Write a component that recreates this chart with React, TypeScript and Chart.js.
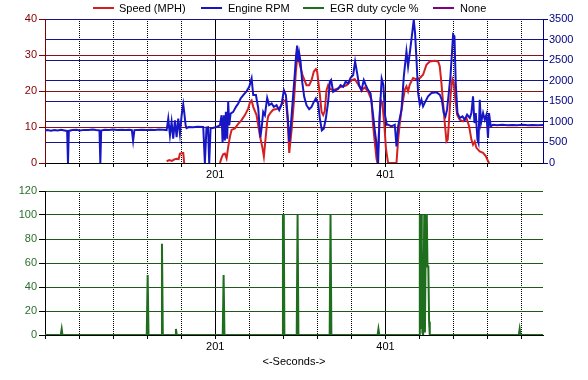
import React, { useEffect, useRef } from "react";
import { Chart, registerables } from "chart.js";

Chart.register(...registerables);

const FONT = '"Liberation Sans", Arial, sans-serif';

// ---------- axis data ----------
const xMin = 1;
const xMax = 586;
const xTickValues = [1, 41, 81, 121, 161, 201, 241, 281, 321, 361, 401, 441, 481, 521, 561];
const xLabelValues = [201, 401];
const axisTitle = "<-Seconds->";

// ---------- series ----------
const rpmSeconds = [
  1, 4, 8, 12, 16, 20, 24, 27, 28, 29, 33, 38, 42, 47, 52, 57, 61, 65, 66, 67,
  71, 76, 81, 86, 91, 96, 100, 103, 104.5, 106, 110, 115, 120, 125, 130, 135, 140,
  143.9, 145.8, 147.8, 149.7, 151.6, 153.6, 155.6, 157.5, 159.5, 161.5, 163.4, 164.5,
  166.2, 167.3, 170, 175, 180, 186.9, 188.8, 190.7, 192.5, 193.9, 195.5, 202.6,
  206.5, 208.4, 209.6, 211.1, 212.3, 213.5, 215.0, 216.2, 217.4, 219.0, 222.1, 225.3,
  228.0, 230.8, 233.9, 237.9, 240.9, 243.7, 245.6, 248.8, 251.5, 254.0, 255.8, 257.3,
  259.3, 262.0, 264.3, 267.2, 269.8, 273.0, 276.1, 278.9, 281.6, 284.0, 286.0, 288.0,
  289.8, 292.5, 294.5, 296.0, 297.2, 298.4, 299.6, 301.2, 303.1, 305.5, 308.2, 311.3,
  314.1, 316.8, 319.2, 321.9, 323.9, 326.2, 328.5, 330.9, 333.6, 335.6, 337.1, 339.5,
  342.6, 345.3, 348.2, 351.3, 354.1, 357.1, 360.0, 363.0, 365.3, 367.7, 370.0, 372.8,
  375.5, 377.8, 380.6, 383.4, 386.4, 388.4, 390.4, 392.3, 394.0, 396.5, 398.5, 400.5,
  402.6, 404.1, 408.0, 411.9, 413.9, 415.8, 419.8, 422.5, 425.6, 427.5, 429.5, 431.9,
  434.2, 435.7, 437.4, 439.3, 441.3, 443.2, 445.1, 447.9, 451.0, 455.0, 460.9, 464.7,
  467.1, 469.4, 471.4, 473.3, 475.3, 477.3, 478.8, 480.4, 482.0, 483.5, 485.5, 488.2,
  491.4, 494.1, 496.8, 500.0, 501.9, 503.8, 505.5, 507.0, 509.0, 510.2, 511.7, 513.2,
  515.6, 517.6, 519.6, 521.4, 522.6, 524.6, 527.3, 532, 538, 544, 550, 556, 562, 568,
  574, 580, 586,
];
const rpmValues = [
  790, 800, 785, 800, 790, 805, 790, 780, 0, 780, 800, 810, 790, 805, 800, 815, 800, 790, 0, 790,
  810, 800, 815, 800, 810, 805, 810, 800, 540, 800, 805, 810, 800, 810, 805, 815, 810,
  800, 1080, 672, 997, 591, 1039, 631, 1080, 713, 1161, 1422, 1242,
  917, 850, 875, 870, 880, 875, 0, 860, 870, 0, 840, 875,
  917, 1161, 508, 1161, 550, 1242, 591, 1503, 917, 1202, 1242, 1364,
  1447, 1569, 1650, 1747, 1853, 2058, 1650, 1650, 1325, 620, 917, 1242,
  1161, 1585, 1405, 1447, 1364, 1405, 1283, 1422, 1772, 1650, 1161, 520,
  917, 1650, 2180, 2627, 2855, 2464, 2668, 2464, 1975, 1608, 1405, 1307,
  1364, 1486, 1569, 1447, 1080, 794, 836, 1080, 1486, 1975, 2016, 1731,
  1772, 1800, 1894, 1853, 1975, 1934, 2073, 2139, 2464, 2180, 1894, 1772,
  2016, 1894, 1772, 1691, 1161, 794, 469, 0, 1100, 2050, 1900, 1150,
  931, 931, 891, 931, 405, 891, 1296, 2106, 2714, 2349, 2673, 3078,
  3483, 3159, 2511, 1701, 1418, 1539, 1377, 1499, 1620, 1701, 1717, 1661,
  1539, 1215, 1134, 1296, 1701, 2106, 2592, 3119, 3078, 1944, 1215, 1094,
  1134, 1053, 1175, 1094, 1215, 1620, 972, 1215, 567, 486, 1539, 972,
  1215, 1053, 1175, 608, 1215, 891, 931, 920, 930, 915, 925, 920, 930, 915,
  925, 920, 925,
];

const speedSeconds = [
  143.9, 147, 150, 153, 155.6, 158, 159.5, 161.5, 163.4, 164.5, 185,
  206.5, 208.5, 210.3, 212.3, 214.3, 216.2, 218.2, 220.2, 224.1, 228.0, 231.9, 235.8,
  239.7, 241.7, 243.7, 245.6, 249.5, 253.4, 256.6, 258.1, 259.7, 262.0, 263.2, 266.0,
  269.0, 273.0, 276.9, 280.8, 284.0, 286.0, 287.9, 290.6, 293.3, 295.7, 297.2, 298.4,
  300.4, 303.5, 308.2, 311.3, 314.1, 316.8, 319.2, 320.7, 323.9, 325.9, 327.8, 329.7,
  331.7, 333.6, 335.6, 339.5, 343.5, 349.4, 355.2, 361.1, 364.9, 368.8, 372.8, 376.7,
  380.6, 384.5, 386.4, 388.4, 390.4, 391.5, 393.5, 395.2, 397.2, 399.5, 401.5, 404.0,
  408.0, 413.9, 415.8, 417.8, 419.8, 421.7, 423.7, 425.6, 427.5, 429.5, 433.4, 437.4,
  441.3, 445.1, 449.1, 453.0, 458.9, 462.8, 464.7, 466.7, 468.6, 470.6, 472.6, 474.1,
  475.7, 477.6, 479.6, 481.2, 483.1, 485.1, 488.2, 492.2, 496.1, 499.2, 501.9, 503.8,
  505.8, 507.8, 511.7, 515.6, 518.8, 521.5, 522.7,
];
const speedValues = [
  0.5, 0.8, 0.6, 1.0, 1.2, 1.1, 2.6, 2.7, 2.8, 0, null,
  0, 1.5, 2.4, 2.6, 1.3, 4.5, 7.3, 9.2, 9.6, 10.9, 11.9, 13.3,
  15.1, 16.8, 17.4, 15.6, 13.3, 7.7, 4.0, 1.8, 5.8, 11.4, 13.0, 14.0,
  14.8, 15.0, 15.4, 17.0, 17.5, 12.0, 2.8, 9.0, 16.8, 25.4, 29.1, 29.5,
  27.2, 24.4, 21.6, 21.6, 23.0, 25.4, 26.1, 25.4, 18.9, 14.2, 13.3, 14.5,
  20.2, 21.6, 20.6, 20.2, 20.6, 21.2, 21.6, 23.0, 23.3, 21.9, 20.2, 21.0,
  19.8, 17.5, 10.5, 5.8, 1.2, 0, 10, 17.5, 16.8, 11, 4, 0,
  0, 0, 6.5, 11.1, 14.8, 17.6, 20.4, 21.3, 19.9, 21.8, 23.6, 23.2,
  23.6, 24.5, 27.3, 28.2, 28.4, 28.2, 26.9, 22.2, 16.7, 11.1, 6.0, 6.5,
  12.0, 19.4, 23.2, 22.2, 17.6, 13.4, 12.0, 11.6, 12.5, 10.2, 6.5, 5.1,
  6.0, 4.2, 3.2, 2.8, 1.9, 0.5, 0,
];

const egrSeconds = [
  1, 19.5, 20.6, 21.5, 120.5, 121.6, 122.6, 137.4, 138.4, 139.4, 153.8, 154.8, 155.8,
  209.8, 210.8, 211.8, 279.8, 280.5, 281.5, 282.2, 296.7, 297.7, 298.7, 335.4, 336.4,
  337.4, 391.7, 392.7, 393.7, 440.5, 441.3, 442.1, 442.9, 443.6, 444.3, 445.2, 446.5,
  447.3, 448.5, 449.5, 450.3, 451.3, 452.2, 453.0, 557.6, 558.6, 559.6, 586,
];
const egrValues = [
  0, 0, 5, 0, 0, 50, 0, 0, 76, 0, 0, 5, 0,
  0, 50, 0, 0, 100, 100, 0, 0, 100, 0, 0, 100,
  0, 0, 5, 0, 0, 100, 5, 100, 78, 2, 0, 100,
  2, 100, 100, 57, 57, 11, 0, 0, 5, 0, 0,
];

const legendLabels = ["Speed (MPH)", "Engine RPM", "EGR duty cycle %", "None"];
const legendColors = ["#d42020", "#1616c4", "#1e6e1e", "#800080"];
const legendLineX = [93, 201, 303, 433];
const legendTextX = [119, 228, 330, 460];

const pairs = (xs: number[], ys: (number | null)[]) => xs.map((x, i) => ({ x, y: ys[i] }));

function makeX(withTitle: boolean, height: number) {
  return {
    type: "linear" as const,
    position: "bottom" as const,
    min: xMin,
    max: xMax,
    afterBuildTicks: (s: any) => {
      s.ticks = xTickValues.map((v) => ({ value: v }));
    },
    afterFit: (s: any) => {
      s.height = height;
    },
    ticks: {
      autoSkip: false,
      maxRotation: 0,
      padding: 1,
      color: "#000",
      font: { family: FONT, size: 11 },
      callback: (v: any) => (xLabelValues.includes(Number(v)) ? String(v) : ""),
    },
    grid: {
      color: "#000",
      lineWidth: 1,
      tickLength: 4,
      tickColor: "#000",
    },
    border: {
      color: "#000",
      width: 1,
      dash: (ctx: any) =>
        ctx.tick && !xLabelValues.includes(ctx.tick.value) ? [1, 1] : [],
    },
    title: {
      display: withTitle,
      text: axisTitle,
      color: "#000",
      font: { family: FONT, size: 11 },
      padding: { top: 0, bottom: 11 },
    },
  };
}

function TopChart() {
  const ref = useRef<HTMLCanvasElement>(null);
  useEffect(() => {
    if (!ref.current) return;
    const chart = new Chart(ref.current, {
      type: "line",
      data: {
        datasets: [
          {
            label: legendLabels[0],
            data: pairs(speedSeconds, speedValues),
            borderColor: legendColors[0],
            borderWidth: 2,
            pointRadius: 0,
            spanGaps: false,
            yAxisID: "ySpeed",
            order: 2,
          },
          {
            label: legendLabels[1],
            data: pairs(rpmSeconds, rpmValues),
            borderColor: legendColors[1],
            borderWidth: 2,
            pointRadius: 0,
            yAxisID: "yRpm",
            order: 1,
          },
        ],
      },
      options: {
        animation: false,
        responsive: false,
        maintainAspectRatio: false,
        events: [],
        layout: { padding: { top: 19, left: 0, right: 0, bottom: 0 } },
        plugins: { legend: { display: false }, tooltip: { enabled: false } },
        scales: {
          x: makeX(false, 19),
          ySpeed: {
            type: "linear",
            position: "left",
            min: 0,
            max: 40,
            afterFit: (s: any) => {
              s.width = 45;
            },
            ticks: {
              stepSize: 10,
              color: "#800000",
              padding: 2,
              font: { family: FONT, size: 11 },
              callback: (v: any) => String(v),
            },
            grid: {
              color: (ctx: any) =>
                ctx.tick && (ctx.tick.value === 0 || ctx.tick.value === 40)
                  ? "rgba(0,0,0,0)"
                  : "#861414",
              tickColor: "#800000",
              tickLength: 6,
            },
            border: { color: "#800000", width: 1 },
          },
          yRpm: {
            type: "linear",
            position: "right",
            min: 0,
            max: 3500,
            afterFit: (s: any) => {
              s.width = 45;
            },
            ticks: {
              stepSize: 500,
              color: "#000080",
              padding: 1,
              font: { family: FONT, size: 11 },
              callback: (v: any) => String(v),
            },
            grid: {
              color: (ctx: any) =>
                ctx.tick && ctx.tick.value === 0 ? "rgba(0,0,0,0)" : "#14148c",
              tickColor: "#000080",
              tickLength: 5,
            },
            border: { color: "#000080", width: 1 },
          },
        },
      } as any,
    });
    return () => chart.destroy();
  }, []);
  return (
    <canvas
      ref={ref}
      width={588}
      height={182}
      style={{ position: "absolute", left: 0, top: 0, width: 588, height: 182 }}
    />
  );
}

function BottomChart() {
  const ref = useRef<HTMLCanvasElement>(null);
  useEffect(() => {
    if (!ref.current) return;
    const chart = new Chart(ref.current, {
      type: "line",
      data: {
        datasets: [
          {
            label: legendLabels[2],
            data: pairs(egrSeconds, egrValues),
            borderColor: legendColors[2],
            borderWidth: 2,
            pointRadius: 0,
            yAxisID: "y",
          },
        ],
      },
      options: {
        animation: false,
        responsive: false,
        maintainAspectRatio: false,
        events: [],
        layout: { padding: { top: 9, left: 0, right: 45, bottom: 0 } },
        plugins: { legend: { display: false }, tooltip: { enabled: false } },
        scales: {
          x: makeX(true, 45),
          y: {
            type: "linear",
            position: "left",
            min: 0,
            max: 120,
            afterFit: (s: any) => {
              s.width = 45;
            },
            ticks: {
              stepSize: 20,
              color: "#2a6e2a",
              padding: 2,
              font: { family: FONT, size: 11 },
              callback: (v: any) => String(v),
            },
            grid: {
              color: (ctx: any) =>
                ctx.tick && ctx.tick.value === 0 ? "rgba(0,0,0,0)" : "#1e5a1e",
              tickColor: "#000",
              tickLength: 6,
            },
            border: { color: "#000", width: 1 },
          },
        },
      } as any,
    });
    return () => chart.destroy();
  }, []);
  return (
    <canvas
      ref={ref}
      width={588}
      height={198}
      style={{ position: "absolute", left: 0, top: 182, width: 588, height: 198 }}
    />
  );
}

export default function App() {
  return (
    <div
      style={{
        position: "absolute",
        left: 0,
        top: 0,
        width: 588,
        height: 380,
        background: "#fff",
        overflow: "hidden",
        fontFamily: FONT,
      }}
    >
      <TopChart />
      <BottomChart />
      {legendLabels.map((label, i) => (
        <React.Fragment key={label}>
          <div
            style={{
              position: "absolute",
              left: legendLineX[i],
              top: 7,
              width: 21,
              height: 2,
              background: legendColors[i],
            }}
          />
          <span
            style={{
              position: "absolute",
              left: legendTextX[i],
              top: 1,
              fontSize: 11,
              lineHeight: "14px",
              color: "#000",
              whiteSpace: "nowrap",
            }}
          >
            {label}
          </span>
        </React.Fragment>
      ))}
    </div>
  );
}
